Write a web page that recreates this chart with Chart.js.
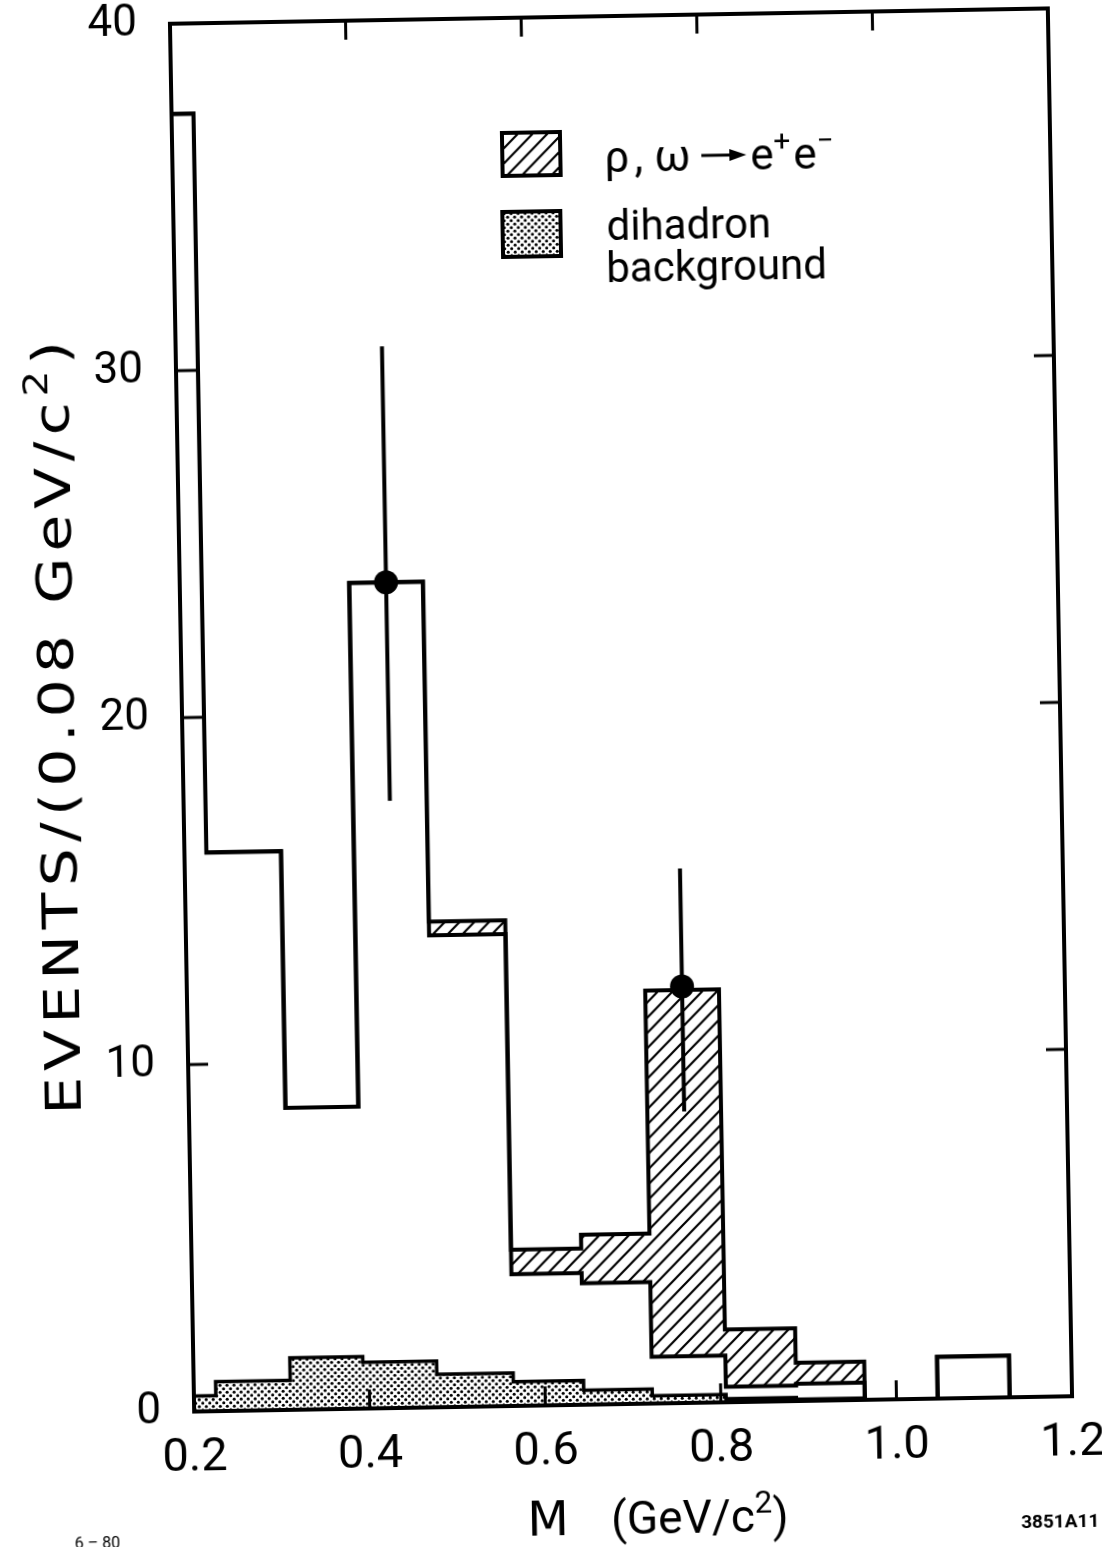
<!DOCTYPE html>
<html>
<head>
<meta charset="utf-8">
<script src="https://cdn.jsdelivr.net/npm/chart.js@4.4.1/dist/chart.umd.min.js"></script>
<style>
  html, body { margin: 0; padding: 0; background: #fff; overflow: hidden; }
  /* the original scan sits about one degree off square; the canvas is a bit
     larger than the page so nothing is cut before the rotation */
  #wrap { position: absolute; left: 0; top: -20px; width: 1120px; height: 1567px;
          transform-origin: 621px 730px; transform: rotate(-1deg); }
</style>
</head>
<body>
<div id="wrap"><canvas id="histo" width="1120" height="1567"></canvas></div>
<script>
// bin edges, GeV/c^2 (the first bin is cut off by the axis at 0.2)
const binEdges = [0.2, 0.225, 0.31, 0.393, 0.477, 0.564, 0.644, 0.722, 0.806, 0.886, 0.964, 1.047, 1.129];
// all events per bin (outer histogram)
const totalEvents = [37.4, 16.1, 8.7, 23.8, 14.0, 4.5, 4.9, 11.9, 2.1, 1.1, 0, 1.2];
// events without the rho,omega -> e+e- part (bottom of the hatched band)
const nonResonant = [37.4, 16.1, 8.7, 23.8, 13.6, 3.8, 3.5, 1.35, 0.45, 0.5, 0, 1.2];
// dihadron background (dotted)
const dihadronBg = [0.45, 0.85, 1.5, 1.33, 0.95, 0.7, 0.42, 0.22, 0.1, 0.05, 0, 0];

// points with error bars
const pointMass = [0.435, 0.764];
const pointEvents = [23.8, 12.0];
const errLow = [17.5, 8.4];
const errHigh = [30.6, 15.4];

const xTicks = [0.2, 0.4, 0.6, 0.8, 1.0, 1.2];
const yTicks = [0, 10, 20, 30, 40];

const FONT = 'Roboto, "Noto Sans", sans-serif';
const WIDEFONT = '"DejaVu Sans", sans-serif';
const TOP = 20; // canvas rows above the page

function steps(vals) {
  const pts = [];
  vals.forEach((v, i) => {
    pts.push({ x: binEdges[i], y: v }, { x: binEdges[i + 1], y: v });
  });
  pts.push({ x: binEdges[binEdges.length - 1], y: 0 });
  return pts;
}

function makeHatch() {
  const c = document.createElement('canvas');
  c.width = c.height = 15;
  const g = c.getContext('2d');
  g.strokeStyle = '#000';
  g.lineWidth = 2.2;
  g.beginPath();
  g.moveTo(-1, 16); g.lineTo(16, -1);
  g.moveTo(-4, 4); g.lineTo(4, -4);
  g.moveTo(11, 19); g.lineTo(19, 11);
  g.stroke();
  return g.createPattern(c, 'repeat');
}

function makeDots() {
  const c = document.createElement('canvas');
  c.width = c.height = 7;
  const g = c.getContext('2d');
  g.fillStyle = '#fff';
  g.fillRect(0, 0, 7, 7);
  g.fillStyle = '#000';
  [[1.75, 1.75], [5.25, 5.25]].forEach(([px, py]) => {
    g.beginPath(); g.arc(px, py, 1.55, 0, Math.PI * 2); g.fill();
  });
  return g.createPattern(c, 'repeat');
}

const hatch = makeHatch();
const dots = makeDots();

// text with superscripts: runs = [[text, isSup], ...]
function drawRuns(ctx, runs, x, y, size, align, family) {
  const fam = family || FONT;
  const widths = runs.map(([t, sup]) => {
    ctx.font = (sup ? size * 0.68 : size) + 'px ' + fam;
    return ctx.measureText(t).width;
  });
  const total = widths.reduce((a, b) => a + b, 0);
  let cx = align === 'center' ? x - total / 2 : x;
  runs.forEach(([t, sup], i) => {
    ctx.font = (sup ? size * 0.68 : size) + 'px ' + fam;
    ctx.fillText(t, cx, sup ? y - size * 0.42 : y);
    cx += widths[i];
  });
  return cx;
}

const framePlugin = {
  id: 'frame',
  afterDatasetsDraw(chart) {
    const { ctx, chartArea: a, scales: { x, y } } = chart;
    ctx.save();
    ctx.strokeStyle = '#000';
    ctx.lineWidth = 4;
    ctx.strokeRect(a.left, a.top, a.right - a.left, a.bottom - a.top);
    ctx.lineWidth = 3;
    ctx.beginPath();
    xTicks.slice(1, -1).forEach(v => {
      const px = x.getPixelForValue(v);
      ctx.moveTo(px, a.bottom); ctx.lineTo(px, a.bottom - 19);
      ctx.moveTo(px, a.top); ctx.lineTo(px, a.top + 19);
    });
    yTicks.slice(1, -1).forEach(v => {
      const py = y.getPixelForValue(v);
      ctx.moveTo(a.left, py); ctx.lineTo(a.left + 20, py);
      ctx.moveTo(a.right, py); ctx.lineTo(a.right - 20, py);
    });
    ctx.stroke();

    // error bars
    ctx.lineWidth = 4;
    ctx.beginPath();
    pointMass.forEach((m, i) => {
      const px = x.getPixelForValue(m);
      ctx.moveTo(px, y.getPixelForValue(errHigh[i]));
      ctx.lineTo(px, y.getPixelForValue(errLow[i]));
    });
    ctx.stroke();
    ctx.restore();
  }
};

const labelPlugin = {
  id: 'labels',
  afterDraw(chart) {
    const ctx = chart.ctx;
    ctx.save();
    ctx.translate(0, TOP);
    ctx.fillStyle = '#000';
    ctx.strokeStyle = '#000';
    ctx.textBaseline = 'alphabetic';

    // legend boxes
    ctx.lineWidth = 4;
    ctx.fillStyle = '#fff';
    ctx.fillRect(512, 131, 58, 43);
    ctx.fillStyle = hatch;
    ctx.fillRect(512, 131, 58, 43);
    ctx.strokeRect(512, 131, 58, 43);
    ctx.fillStyle = dots;
    ctx.fillRect(511, 210, 58, 45);
    ctx.strokeRect(511, 210, 58, 45);

    // legend texts
    ctx.fillStyle = '#000';
    ctx.font = '44px ' + FONT;
    ctx.fillText('\u03c1', 614, 172);
    ctx.fillText(',', 644, 172);
    ctx.fillText('\u03c9', 664, 172);
    const ay = 157;
    ctx.lineWidth = 3;
    ctx.beginPath();
    ctx.moveTo(711, ay); ctx.lineTo(742, ay);
    ctx.stroke();
    ctx.beginPath();
    ctx.moveTo(756, ay); ctx.lineTo(739, ay - 6); ctx.lineTo(739, ay + 6);
    ctx.closePath(); ctx.fill();
    drawRuns(ctx, [['e', false], ['+', true]], 760, 172, 44, 'left');
    drawRuns(ctx, [['e', false], ['\u2212', true]], 803, 172, 44, 'left');

    drawRuns(ctx, [['dihadron', false]], 615, 240, 42, 'left');
    drawRuns(ctx, [['background', false]], 614, 282, 42, 'left');

    // y axis title, in wide lettering
    ctx.save();
    ctx.translate(56, 715);
    ctx.rotate(-Math.PI / 2);
    ctx.scale(1.2, 1);
    ctx.letterSpacing = '5px';
    drawRuns(ctx, [['EVENTS/(0.08 GeV/c', false], ['2', true], [')', false]], 0, 18, 50, 'center', WIDEFONT);
    ctx.restore();

    // x axis title
    drawRuns(ctx, [['M', false]], 534, 1534, 48, 'center', WIDEFONT);
    drawRuns(ctx, [['(GeV/c', false], ['2', true], [')', false]], 597, 1534, 46, 'left');

    // plate numbers
    ctx.font = 'bold 19px ' + FONT;
    ctx.textAlign = 'center';
    ctx.fillText('3851A11', 1046, 1535);
    ctx.font = '16px ' + FONT;
    ctx.fillText('6 \u2013 80', 83, 1539);
    ctx.restore();
  }
};

// keep the plot frame where the layout padding puts it
function noEdgePadding(s) {
  s.paddingTop = 0; s.paddingBottom = 0; s.paddingLeft = 0; s.paddingRight = 0;
}

new Chart(document.getElementById('histo'), {
  type: 'line',
  data: {
    datasets: [
      {
        label: 'dihadron background',
        data: steps(dihadronBg),
        borderColor: '#000', borderWidth: 3.5,
        backgroundColor: dots, fill: 'origin',
        pointRadius: 0, tension: 0, borderJoinStyle: 'miter'
      },
      {
        label: 'non-resonant',
        data: steps(nonResonant),
        borderColor: '#000', borderWidth: 4,
        backgroundColor: '#fff', fill: 'origin',
        pointRadius: 0, tension: 0, borderJoinStyle: 'miter'
      },
      {
        label: 'rho, omega -> e+e-',
        data: steps(totalEvents),
        borderColor: '#000', borderWidth: 4,
        backgroundColor: hatch, fill: 'origin',
        pointRadius: 0, tension: 0, borderJoinStyle: 'miter'
      },
      {
        type: 'scatter',
        label: 'data',
        data: pointMass.map((m, i) => ({ x: m, y: pointEvents[i] })),
        pointRadius: 12, pointBackgroundColor: '#000', pointBorderWidth: 0,
        showLine: false, order: -1
      }
    ]
  },
  options: {
    responsive: false,
    animation: false,
    events: [],
    layout: { padding: { top: 16 + TOP, right: 60, left: 0, bottom: 0 } },
    plugins: {
      legend: { display: false },
      tooltip: { enabled: false },
      filler: { drawTime: 'beforeDatasetsDraw' }
    },
    scales: {
      x: {
        type: 'linear', min: 0.2, max: 1.2,
        afterBuildTicks: s => { s.ticks = xTicks.map(v => ({ value: v })); },
        afterFit: s => { s.height = 143; noEdgePadding(s); },
        grid: { display: false },
        border: { display: false },
        ticks: {
          color: '#000', padding: 11, maxRotation: 0, autoSkip: false,
          font: { family: FONT, size: 47 },
          callback: v => v.toFixed(1)
        }
      },
      y: {
        type: 'linear', min: 0, max: 40,
        afterBuildTicks: s => { s.ticks = yTicks.map(v => ({ value: v })); },
        afterFit: s => { s.width = 182; noEdgePadding(s); },
        grid: { display: false },
        border: { display: false },
        ticks: {
          color: '#000', padding: 25,
          font: { family: FONT, size: 44 }
        }
      }
    }
  },
  plugins: [framePlugin, labelPlugin]
});
</script>
</body>
</html>
